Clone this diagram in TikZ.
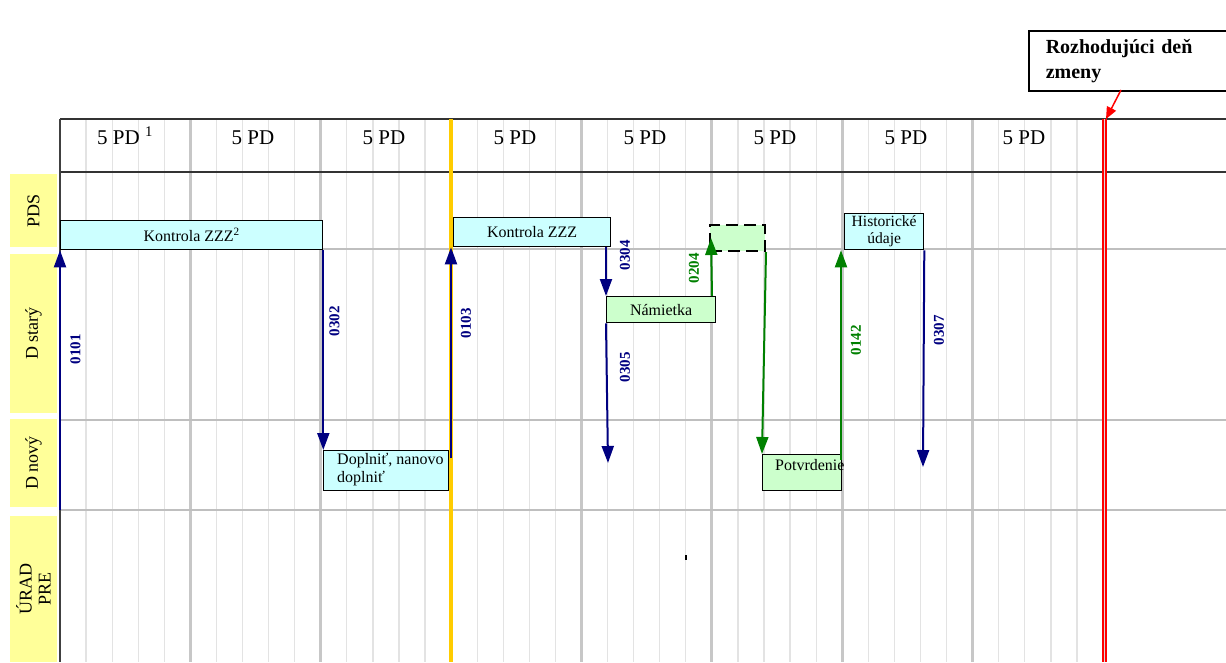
\documentclass[tikz,border=0pt]{standalone}
\usepackage{fontspec}
\setmainfont{Liberation Serif}
\usetikzlibrary{arrows.meta, positioning}

\definecolor{msgblue}{HTML}{000080}
\definecolor{msggreen}{HTML}{008000}
\definecolor{boxcyan}{HTML}{CCFFFF}
\definecolor{boxgreen}{HTML}{CCFFCC}
\definecolor{lanefill}{HTML}{FFFF99}
\definecolor{cutline}{HTML}{FFCC00}

\begin{document}
\begin{tikzpicture}[
  x=1pt, y=-1pt,
  font=\fontsize{16}{18}\selectfont,
  gridminor/.style={draw=black!11, line width=1.3},
  gridmajor/.style={draw=black!22, line width=3},
  hdrrule/.style={draw=black!80, line width=1.5},
  lanerule/.style={draw=black!25, line width=1.5},
  lanelbl/.style={fill=lanefill, rotate=90, inner sep=0pt, align=center,
                  font=\fontsize{18}{19}\selectfont},
  hdr/.style={anchor=base, inner sep=0pt, font=\fontsize{21}{24}\selectfont},
  cbox/.style={draw, line width=1.3, fill=boxcyan, anchor=north west, inner sep=0pt},
  gbox/.style={cbox, fill=boxgreen},
  msgcode/.style={rotate=90, inner sep=0pt, font=\fontsize{15}{16}\selectfont\bfseries},
  arr/.style={line width=2, -{Triangle[length=17pt, width=12pt]}},
  barr/.style={arr, msgblue},
  garr/.style={arr, msggreen}]
\useasboundingbox (0,0) rectangle (1226,662);

% grid: 8 blocks of 5 PD
\foreach \i in {1,...,39}
  \draw[gridminor] ({60+\i*26.075},119) -- ({60+\i*26.075},662);
\foreach \i in {1,...,7}
  \draw[gridmajor] ({60+\i*130.375},119) -- ({60+\i*130.375},662);
\draw[hdrrule] (60,119) -- (1226,119);
\draw[hdrrule] (60,172) -- (1226,172);
\foreach \y in {249,420,510}
  \draw[lanerule] (60,\y) -- (1226,\y);
\draw[line width=2, black!75] (60,119) -- (60,662);
\draw[line width=4, cutline] (451,119) -- (451,662);
\draw[red, line width=1.3, double=black!15, double distance=1.6] (1104.5,119) -- (1104.5,662);
\draw[line width=1.5] (686,555) -- (686,560);

% header
\node[hdr, anchor=base west] (pd1) at (97,144) {5 PD \textsuperscript{1}};
\foreach \x [count=\k from 2] in {253,384,515,645,775,906,1024}
  \node[hdr] (pd\k) at (\x,144) {5 PD};

% lanes
\node[lanelbl, minimum width=73, minimum height=47] (pds) at (33.5,210.5) {PDS};
\node[lanelbl, minimum width=159, minimum height=47] (dstary) at (33.5,333.5) {D starý};
\node[lanelbl, minimum width=88, minimum height=47] (dnovy) at (33.5,463) {D nový};
\node[lanelbl, minimum width=146, minimum height=47] (urad) at (33.5,589) {ÚRAD\\PRE};

% boxes
\node[cbox, minimum width=262, minimum height=29] (kontrola1) at (60,220) {Kontrola ZZZ\textsuperscript{2}};
\node[cbox, minimum width=157, minimum height=29] (kontrola2) at (453,217) {Kontrola ZZZ};
\node[gbox, minimum width=109, minimum height=26] (namietka) at (606,296) {Námietka};
\node[gbox, minimum width=55, minimum height=26, dashed, dash pattern=on 12pt off 6pt, line width=2] (dashbox) at (709,224) {};
\node[cbox, minimum width=79, minimum height=36, align=center, font=\fontsize{15.6}{17}\selectfont] (historicke) at (844,213) {Historické\\údaje};
\node[cbox, minimum width=125, minimum height=40] (doplnit) at (323,450) {};
\node[anchor=north west, align=left, inner sep=0pt] (doplnittxt) at (337,453) {Doplniť, nanovo\\doplniť};
\node[gbox, minimum width=79, minimum height=36] (potvrd) at (762,454) {};
\node[anchor=base west, inner sep=0pt] (potvrdtxt) at (775,470) {Potvrdenie};

\node[draw, line width=1.5, anchor=north west, minimum width=215, minimum height=60,
      inner xsep=17pt, text width=190, align=left,
      font=\fontsize{20}{25}\selectfont\bfseries] (rozh) at (1028,30) {Rozhodujúci deň\\zmeny};

% messages
\coordinate (s0101) at (60,510);
\coordinate (s0103) at (451,458);
\coordinate (e0305) at (608,463);
\coordinate (s0204) at (712,296);
\coordinate (e0204) at (711,238);
\coordinate (s0142) at (841,460);
\coordinate (e0307) at (923,467);
\coordinate (rozhfoot) at (1121,90);
\coordinate (cutday) at (1106,119);

\draw[barr] (s0101) -- (kontrola1.south west);
\draw[barr] (kontrola1.south east) -- (kontrola1.south east |- doplnit.north);
\draw[barr] (s0103) -- (s0103 |- kontrola2.south);
\draw[barr] (namietka.north west |- kontrola2.south) -- (namietka.north west);
\draw[barr] (namietka.south west) -- (e0305);
\draw[garr] (s0204) -- (e0204);
\draw[garr] (dashbox.south east) -- (potvrd.north west);
\draw[garr] (s0142) -- (s0142 |- historicke.south);
\draw[barr] (historicke.south east) -- (e0307);
\draw[red, line width=1.5, -{Triangle[length=12pt, width=10pt]}] (rozhfoot) -- (cutday);

\node[msgcode, msgblue] (c0101) at (75.5,349) {0101};
\node[msgcode, msgblue] (c0302) at (334.5,321) {0302};
\node[msgcode, msgblue] (c0103) at (466,323) {0103};
\node[msgcode, msgblue] (c0304) at (625,255) {0304};
\node[msgcode, msggreen] (c0204) at (694,268) {0204};
\node[msgcode, msgblue] (c0305) at (625,367) {0305};
\node[msgcode, msggreen] (c0142) at (856,340) {0142};
\node[msgcode, msgblue] (c0307) at (939,330) {0307};
\end{tikzpicture}
\end{document}
